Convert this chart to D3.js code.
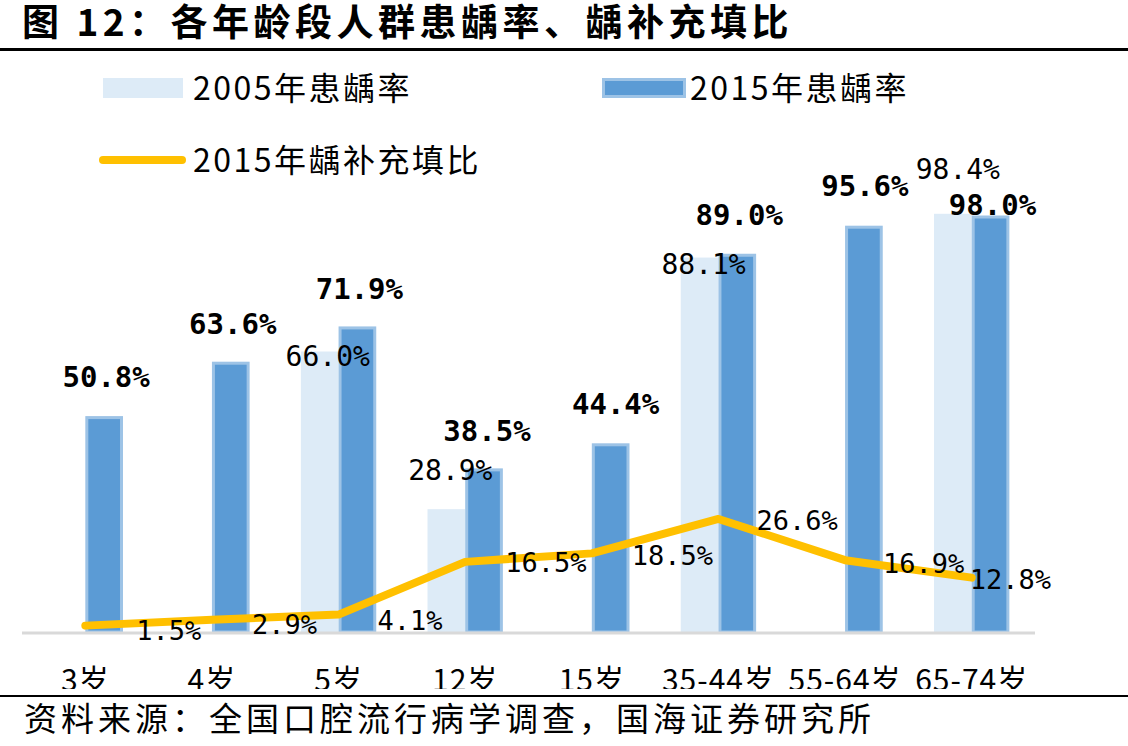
<!DOCTYPE html>
<html><head><meta charset="utf-8">
<script src="https://cdn.jsdelivr.net/npm/d3@7"></script>
<style>
html,body{margin:0;padding:0;background:#fff;}
svg{display:block;}
</style>
</head><body>
<svg id="chart" width="1128" height="746"></svg>
<script>
// ---- data ----
const categories = ['3岁','4岁','5岁','12岁','15岁','35-44岁','55-64岁','65-74岁'];
const rate2005 = [null, null, 66.0, 28.9, null, 88.1, null, 98.4];
const rate2015 = [50.8, 63.6, 71.9, 38.5, 44.4, 89.0, 95.6, 98.0];
const fillRatio2015 = [1.5, 2.9, 4.1, 16.5, 18.5, 26.6, 16.9, 12.8];
const seriesNames = ['2005年患龋率', '2015年患龋率', '2015年龋补充填比'];
const titleText = '图 12：各年龄段人群患龋率、龋补充填比';
const sourceText = '资料来源：全国口腔流行病学调查，国海证券研究所';

// ---- label nudges (style) ----
const off2005 = [null, null, [8, 5], [4, -39], null, [4, 7], null, [5, -44]];
const off2015 = [[2,-39],[2,-38],[2,-37],[3,-37],[5,-39],[2,-39],[1,-40],[2,-11]];
const offLine = [[51,5],[40,5],[39,6],[40,1],[40,2],[38,2],[38,3],[-2,2]];

const svg = d3.select('#chart');
const CJK = '"Noto Sans CJK SC", "Noto Sans", sans-serif';
const MONO = '"DejaVu Sans Mono", monospace';

// title & rules
svg.append('text').attr('x', 22).attr('y', 36)
  .style('font-family', CJK).style('font-weight', 700).style('font-size', '37px')
  .style('letter-spacing', '4.5px').attr('fill', '#000').text(titleText);
svg.append('rect').attr('x', 0).attr('y', 48).attr('width', 1128).attr('height', 3).attr('fill', '#000');
svg.append('rect').attr('x', 0).attr('y', 695).attr('width', 1128).attr('height', 2).attr('fill', '#000');
svg.append('text').attr('x', 24).attr('y', 731)
  .style('font-family', CJK).style('font-size', '33px').style('letter-spacing', '4px')
  .attr('fill', '#000').text(sourceText);

// scales
const x = d3.scaleBand().domain(categories).range([22, 1035]).padding(0);
const xs = d3.scaleBand().domain(['2005','2015']).range([0, x.bandwidth()]).paddingInner(0).paddingOuter(0.68);
const y = d3.scaleLinear().domain([0, 100]).range([632, 207]);

const g = svg.append('g');

// 2005 bars
g.selectAll('rect.b05').data(categories.map((c,i)=>({c, v: rate2005[i], i})).filter(d=>d.v!=null))
  .join('rect').attr('class','b05')
  .attr('x', d => x(d.c) + xs('2005'))
  .attr('y', d => y(d.v))
  .attr('width', xs.bandwidth())
  .attr('height', d => y(0) - y(d.v))
  .attr('fill', '#DDEBF7');

// 2015 bars
g.selectAll('rect.b15').data(categories.map((c,i)=>({c, v: rate2015[i], i})))
  .join('rect').attr('class','b15')
  .attr('x', d => x(d.c) + xs('2015') + 1.5)
  .attr('y', d => y(d.v) + 1.5)
  .attr('width', xs.bandwidth() - 3)
  .attr('height', d => y(0) - y(d.v) - 1.5)
  .attr('fill', '#5B9BD5').attr('stroke', '#9DC3E6').attr('stroke-width', 3);

// axis baseline
g.append('line').attr('x1', 22).attr('x2', 1035).attr('y1', y(0)+1).attr('y2', y(0)+1)
  .attr('stroke', '#D9D9D9').attr('stroke-width', 3);

// line series
const line = d3.line().x((d,i) => x(categories[i]) + x.bandwidth()/2).y(d => y(d));
g.append('path').datum(fillRatio2015).attr('d', line)
  .attr('fill', 'none').attr('stroke', '#FFC000').attr('stroke-width', 8)
  .attr('stroke-linejoin', 'round').attr('stroke-linecap', 'round');

// labels 2005
g.selectAll('text.l05').data(categories.map((c,i)=>({c, v: rate2005[i], i})).filter(d=>d.v!=null))
  .join('text').attr('class','l05')
  .attr('x', d => x(d.c) + xs('2005') + xs.bandwidth()/2 + off2005[d.i][0])
  .attr('y', d => y(d.v) + off2005[d.i][1])
  .attr('text-anchor', 'middle').attr('dominant-baseline', 'central')
  .style('font-family', MONO).style('font-size', '28px').attr('fill', '#000')
  .text(d => d.v.toFixed(1) + '%');

// labels 2015
g.selectAll('text.l15').data(categories.map((c,i)=>({c, v: rate2015[i], i})))
  .join('text').attr('class','l15')
  .attr('x', d => x(d.c) + xs('2015') + xs.bandwidth()/2 + off2015[d.i][0])
  .attr('y', d => y(d.v) + off2015[d.i][1])
  .attr('text-anchor', 'middle').attr('dominant-baseline', 'central')
  .style('font-family', MONO).style('font-weight', 700).style('font-size', '29px').attr('fill', '#000')
  .text(d => d.v.toFixed(1) + '%');

// line labels
g.selectAll('text.ll').data(fillRatio2015)
  .join('text').attr('class','ll')
  .attr('x', (d,i) => x(categories[i]) + x.bandwidth()/2 + offLine[i][0])
  .attr('y', (d,i) => y(d) + offLine[i][1])
  .attr('dominant-baseline', 'central')
  .style('font-family', MONO).style('font-size', '27px').attr('fill', '#000')
  .text(d => d.toFixed(1) + '%');

// x axis labels (clipped at bottom like the reference)
svg.append('clipPath').attr('id', 'axclip').append('rect')
  .attr('x', 0).attr('y', 640).attr('width', 1128).attr('height', 49);
const xAxis = d3.axisBottom(x).tickSize(0).tickPadding(0);
const ax = svg.append('g').attr('clip-path', 'url(#axclip)')
  .append('g').attr('transform', 'translate(0,668)').call(xAxis);
ax.select('.domain').remove();
ax.selectAll('text').attr('dy', null).attr('y', 23)
  .style('font-family', CJK).style('font-size', '30px').style('letter-spacing', '1px').attr('fill', '#000');

// legend
const lg = svg.append('g').style('font-family', CJK).style('font-size', '32px').style('letter-spacing', '2.5px');
lg.append('rect').attr('x', 103).attr('y', 78).attr('width', 80).attr('height', 20).attr('fill', '#DDEBF7');
lg.append('text').attr('x', 193).attr('y', 100).text(seriesNames[0]);
lg.append('rect').attr('x', 603.5).attr('y', 79.5).attr('width', 81).attr('height', 17)
  .attr('fill', '#5B9BD5').attr('stroke', '#9DC3E6').attr('stroke-width', 3);
lg.append('text').attr('x', 690).attr('y', 100).text(seriesNames[1]);
lg.append('line').attr('x1', 103).attr('x2', 182).attr('y1', 160).attr('y2', 160)
  .attr('stroke', '#FFC000').attr('stroke-width', 8).attr('stroke-linecap', 'round');
lg.append('text').attr('x', 193).attr('y', 172).text(seriesNames[2]);
</script>
</body></html>
